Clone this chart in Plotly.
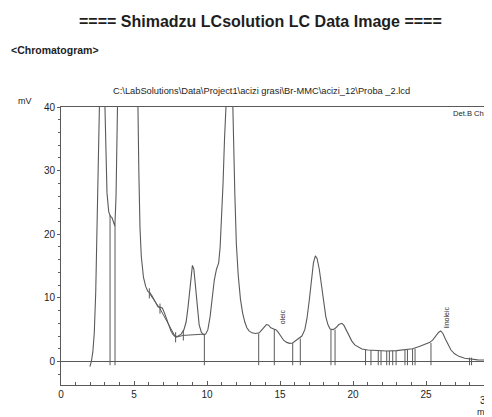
import plotly.graph_objects as go

# ---- data ----
time_min = [1.98, 2.08, 2.18, 2.28, 2.38, 2.48, 2.56, 2.63, 2.70, 2.92, 3.01, 3.07, 3.15, 3.27, 3.39,
            3.49, 3.59, 3.69, 3.77, 3.85, 3.92, 4.01, 5.15, 5.25, 5.33, 5.41, 5.50, 5.65, 5.80, 5.95,
            6.09, 6.24, 6.44, 6.64, 6.79, 6.94, 7.09, 7.23, 7.38, 7.53, 7.68, 7.83, 8.03, 8.23, 8.42,
            8.57, 8.70, 8.82, 8.92, 9.00, 9.10, 9.22, 9.34, 9.46, 9.61, 9.76, 9.91, 10.06, 10.21, 10.36,
            10.50, 10.65, 10.80, 10.90, 11.00, 11.10, 11.20, 11.30, 11.40, 11.69, 11.77, 11.84, 11.91,
            12.01, 12.14, 12.29, 12.44, 12.59, 12.73, 12.88, 13.08, 13.33, 13.58, 13.77, 13.92, 14.07,
            14.22, 14.37, 14.57, 14.72, 14.87, 15.06, 15.26, 15.46, 15.66, 15.86, 16.05, 16.30, 16.50,
            16.70, 16.85, 17.00, 17.14, 17.29, 17.42, 17.54, 17.69, 17.84, 17.99, 18.14, 18.28, 18.43,
            18.63, 18.83, 19.03, 19.23, 19.37, 19.52, 19.72, 19.92, 20.12, 20.37, 20.61, 21.01, 21.60,
            22.30, 22.99, 23.59, 24.08, 24.58, 24.97, 25.27, 25.47, 25.67, 25.87, 26.01, 26.16, 26.31,
            26.51, 26.71, 26.96, 27.25, 27.65, 28.05, 28.54, 29.33, 29.80]
signal_mv = [-0.8, 0.0, 1.5, 4.5, 11.0, 21.0, 32.0, 40.0, 60.0, 60.0, 40.0, 32.0, 26.5, 23.5, 22.8,
             22.6, 22.0, 21.3, 26.0, 33.0, 40.0, 60.0, 60.0, 40.0, 30.0, 21.0, 16.5, 13.2, 11.8, 11.0,
             10.8, 10.3, 9.4, 8.6, 8.5, 8.4, 7.6, 6.6, 5.6, 4.8, 4.2, 3.9, 4.0, 4.3, 5.0,
             6.2, 8.5, 11.5, 14.2, 15.1, 14.5, 11.8, 8.5, 5.8, 4.6, 4.2, 4.3, 5.0, 7.0, 9.8,
             12.8, 14.5, 15.5, 18.0, 22.0, 28.0, 35.0, 40.0, 60.0, 60.0, 40.0, 32.0, 26.0,
             18.5, 13.5, 9.8, 7.6, 6.2, 5.3, 4.8, 4.5, 4.4, 4.5, 5.0, 5.5, 5.8,
             5.7, 5.3, 5.1, 5.0, 4.6, 3.9, 3.3, 3.0, 2.85, 2.9, 3.2, 3.6, 4.0,
             5.0, 6.8, 9.5, 12.8, 15.5, 16.6, 16.2, 14.5, 11.8, 9.0, 7.0, 5.8, 5.1,
             5.0, 5.3, 5.8, 6.0, 5.7, 5.0, 4.0, 3.2, 2.6, 2.2, 1.95, 1.8, 1.7,
             1.65, 1.7, 1.8, 2.0, 2.4, 2.8, 3.0, 3.4, 4.0, 4.6, 4.8, 4.4, 3.6,
             2.6, 1.8, 1.2, 0.8, 0.5, 0.35, 0.25, 0.2, 0.2]

# peak drop lines (retention time, height at the trace)
drop_times = [3.36, 3.70, 9.82, 13.54, 14.61, 15.87, 16.39, 18.49, 18.77, 20.86, 21.23, 21.73,
              21.92, 22.31, 22.49, 22.72, 22.95, 23.56, 23.73, 24.08, 24.25, 25.34, 27.98, 28.12]
drop_tops = [23.0, 21.4, 4.2, 4.4, 5.1, 2.9, 3.6, 5.0, 5.0, 1.8, 1.8, 1.7,
             1.7, 1.65, 1.65, 1.7, 1.7, 1.8, 1.8, 2.0, 2.0, 2.9, 0.6, 0.6]

# integration baseline segments in the 6-10 min region
base_t = [6.05, 6.78, 7.85, 8.38, 9.82]
base_mv = [10.7, 8.3, 3.8, 4.1, 4.3]

peak_names = ["oleic", "linoleic"]
peak_name_t = [15.23, 26.4]
peak_name_mv = [7.0, 7.0]

x_ticks = [0, 5, 10, 15, 20, 25]
y_ticks = [0, 10, 20, 30, 40]

LINE = "#5a5a5a"
TXT = "#1e1e1e"
FONT = "Liberation Sans, Arial, sans-serif"

fig = go.Figure()

# drop lines
dx, dy = [], []
for t, top in zip(drop_times, drop_tops):
    dx += [t, t, None]
    dy += [-0.6, top, None]
# baseline marks
for t, v in zip(base_t[:4], base_mv[:4]):
    dx += [t, t, None]
    dy += [v - 0.8, v + 0.8, None]
fig.add_trace(go.Scatter(x=dx, y=dy, mode="lines", line=dict(color=LINE, width=1),
                         hoverinfo="skip", showlegend=False))
fig.add_trace(go.Scatter(x=base_t, y=base_mv, mode="lines", line=dict(color=LINE, width=1),
                         hoverinfo="skip", showlegend=False))
fig.add_trace(go.Scatter(x=time_min, y=signal_mv, mode="lines",
                         line=dict(color=LINE, width=1.1), showlegend=False))

for name, t, v in zip(peak_names, peak_name_t, peak_name_mv):
    fig.add_annotation(x=t, y=v, xref="x", yref="y", text=name, showarrow=False,
                       textangle=-90, font=dict(family=FONT, size=7, color=TXT))

# the page body adds an 8 px offset; figure coordinates below are window - 8
OFF = 8
W, H = 492 - OFF, 417 - OFF
L, R, T, B = 61 - OFF, 0, 107 - OFF, 32
pw, ph = W - L - R, H - T - B


def px(xp):
    return (xp - OFF - L) / pw


def py(yp):
    return (H - B - (yp - OFF)) / ph


def ann(text, x, y, size, bold=False, xanchor="center"):
    fig.add_annotation(x=px(x), y=py(y), xref="paper", yref="paper",
                       text=f"<b>{text}</b>" if bold else text, showarrow=False,
                       xanchor=xanchor, yanchor="middle",
                       font=dict(family=FONT, size=size, color=TXT))


ann("==== Shimadzu LCsolution LC Data Image ====", 260, 22, 16, bold=True)
ann("&lt;Chromatogram&gt;", 9, 50, 10.5, bold=True, xanchor="left")
ann("C:\\LabSolutions\\Data\\Project1\\acizi grasi\\Br-MMC\\acizi_12\\Proba _2.lcd", 261, 91, 9.3)
ann("mV", 25, 101, 9)
ann("Det.B Ch1", 451, 114, 7.6, xanchor="left")
ann("30", 478, 400, 10, xanchor="left")
ann("min", 475, 412, 9, xanchor="left")

fig.update_layout(
    width=W, height=H,
    margin=dict(l=L, r=R, t=T, b=B),
    paper_bgcolor="white", plot_bgcolor="white",
    font=dict(family=FONT, size=10, color=TXT),
    showlegend=False,
    xaxis=dict(range=[0, 29.52], tickvals=x_ticks, ticks="inside", ticklen=4, tickcolor=LINE,
               showline=True, mirror=True, linecolor=LINE, linewidth=1, showgrid=False,
               zeroline=False, tickfont=dict(size=10, color=TXT),
               minor=dict(dtick=1, ticks="inside", ticklen=3, tickcolor=LINE)),
    yaxis=dict(range=[-3.7, 40], tickvals=y_ticks, ticks="outside", ticklen=3, tickcolor=LINE,
               showline=True, linecolor=LINE, linewidth=1, showgrid=False,
               zeroline=True, zerolinecolor=LINE, zerolinewidth=1,
               tickfont=dict(size=10, color=TXT),
               minor=dict(dtick=2, ticks="outside", ticklen=2, tickcolor=LINE)),
)

fig.write_html("out.html")
